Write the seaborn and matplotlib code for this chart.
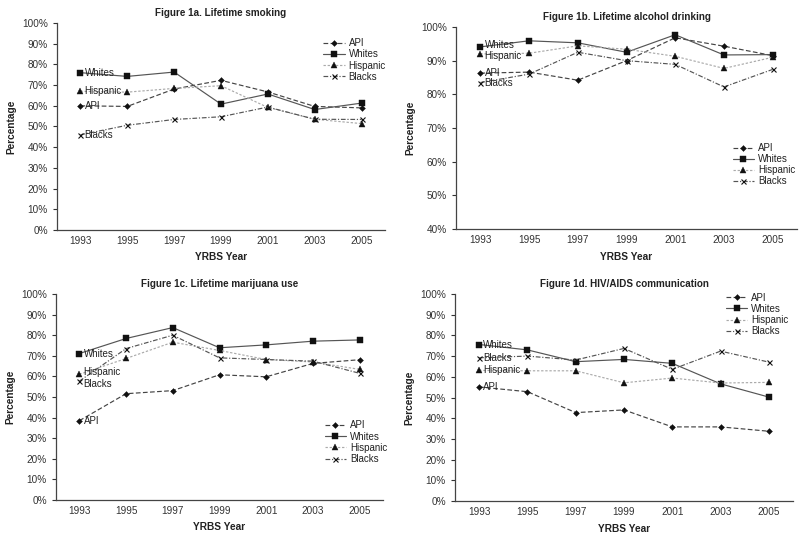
import matplotlib
matplotlib.use("Agg")
import matplotlib.pyplot as plt
import seaborn as sns
import pandas as pd
from matplotlib.ticker import PercentFormatter, MultipleLocator
from matplotlib.lines import Line2D

sns.set_theme(style="white")
plt.rcParams['font.family'] = ['Liberation Sans', 'DejaVu Sans']

years = [1993, 1995, 1997, 1999, 2001, 2003, 2005]
groups = ["API", "Whites", "Hispanic", "Blacks"]

smoke_api = [60.0, 59.7, 68.1, 72.3, 66.7, 59.7, 59.0]
smoke_whites = [76.0, 74.2, 76.3, 60.8, 65.7, 58.2, 61.3]
smoke_hispanic = [67.0, 66.6, 68.4, 69.7, 59.2, 53.5, 51.4]
smoke_blacks = [46.0, 50.6, 53.4, 54.7, 59.4, 53.5, 53.4]

alcohol_api = [86.3, 86.6, 84.2, 90.0, 96.8, 94.3, 91.5]
alcohol_whites = [94.1, 95.9, 95.3, 92.5, 97.7, 91.7, 91.8]
alcohol_hispanic = [92.0, 92.2, 94.4, 93.4, 91.3, 87.7, 91.0]
alcohol_blacks = [83.5, 86.0, 92.5, 90.0, 88.9, 82.2, 87.4]

marijuana_api = [38.5, 51.6, 53.1, 60.8, 59.8, 66.3, 68.1]
marijuana_whites = [71.1, 78.4, 83.7, 73.9, 75.3, 77.1, 77.7]
marijuana_hispanic = [61.0, 68.7, 76.6, 72.6, 68.2, 67.0, 63.4]
marijuana_blacks = [57.7, 73.5, 80.0, 69.0, 68.2, 67.4, 61.5]

hiv_api = [55.1, 52.8, 42.7, 44.0, 35.8, 35.8, 33.7]
hiv_whites = [75.6, 73.0, 67.3, 68.4, 66.5, 56.6, 50.2]
hiv_hispanic = [63.1, 62.9, 62.9, 57.1, 59.4, 57.0, 57.3]
hiv_blacks = [69.2, 70.0, 68.1, 73.7, 63.6, 72.4, 67.1]

titles = ["Figure 1a. Lifetime smoking", "Figure 1b. Lifetime alcohol drinking",
          "Figure 1c. Lifetime marijuana use", "Figure 1d. HIV/AIDS communication"]

panels = [
    [smoke_api, smoke_whites, smoke_hispanic, smoke_blacks],
    [alcohol_api, alcohol_whites, alcohol_hispanic, alcohol_blacks],
    [marijuana_api, marijuana_whites, marijuana_hispanic, marijuana_blacks],
    [hiv_api, hiv_whites, hiv_hispanic, hiv_blacks],
]

styles = {
    "API": dict(color="#444444", ls=(0, (4, 2)), marker="D", ms=3.0, lw=0.85),
    "Whites": dict(color="#555555", ls="-", marker="s", ms=4.0, lw=0.85),
    "Hispanic": dict(color="#aaaaaa", ls=(0, (2, 1.5)), marker="^", ms=3.8, lw=0.85),
    "Blacks": dict(color="#555555", ls=(0, (4, 1.5, 1, 1.5)), marker="x", ms=3.6, lw=0.85),
}

W, H = 800, 538
def rect(l, r, t, b):
    return [l / W, 1 - b / H, (r - l) / W, (b - t) / H]

rects = [rect(57, 385, 23, 230), rect(456, 797, 27, 229),
         rect(56, 383, 294, 500), rect(455, 793, 294, 501)]
ylims = [(0, 100), (40, 100), (0, 100), (0, 100)]
legend_anchor = [(0.80, 0.945), (0.80, 0.445), (0.81, 0.405), (0.79, 1.025)]
label_dy = {
    0: {"API": 0, "Whites": 0, "Hispanic": 0, "Blacks": 0},
    1: {"API": 0, "Whites": 1.5, "Hispanic": -1.5, "Blacks": 0},
    2: {"API": 0, "Whites": 0, "Hispanic": 1.5, "Blacks": -2},
    3: {"API": 0, "Whites": 0, "Hispanic": 0, "Blacks": 0},
}

fig = plt.figure(figsize=(8, 5.38), dpi=100)
tick_color = "#333333"

for i, (series_list, title) in enumerate(zip(panels, titles)):
    ax = fig.add_axes(rects[i])
    for g, vals in zip(groups, series_list):
        st = styles[g]
        df = pd.DataFrame({"Year": years, "Value": vals})
        sns.lineplot(data=df, x="Year", y="Value", ax=ax, color=st["color"],
                     linestyle=st["ls"], linewidth=st["lw"], marker=st["marker"],
                     markersize=st["ms"], markerfacecolor="#111111",
                     markeredgecolor="#111111", markeredgewidth=0.8 if g == "Blacks" else 0.3,
                     legend=False, errorbar=None)
        ax.annotate(g, xy=(years[0], vals[0]), xytext=(3, label_dy[i][g]),
                    textcoords="offset points", va="center", ha="left",
                    fontsize=7, color="#222222")
    ax.set_xlim(1992, 2006)
    ax.set_ylim(*ylims[i])
    ax.set_xticks(years)
    ax.set_xticklabels([str(y) for y in years])
    ax.yaxis.set_major_locator(MultipleLocator(10))
    ax.yaxis.set_major_formatter(PercentFormatter(decimals=0))
    ax.tick_params(axis="both", labelsize=7.2, colors=tick_color, labelcolor=tick_color)
    ax.tick_params(axis="y", length=3, width=0.8, direction="out", left=True)
    ax.tick_params(axis="x", length=0, pad=4)
    for s in ["top", "right"]:
        ax.spines[s].set_visible(False)
    for s in ["left", "bottom"]:
        ax.spines[s].set_color("#444444")
        ax.spines[s].set_linewidth(0.9)
    ax.set_title(title, fontsize=7.1, fontweight="bold", color="#222222", pad=5)
    ax.set_xlabel("YRBS Year", fontsize=7.3, fontweight="bold", color="#222222", labelpad=5)
    ax.set_ylabel("Percentage", fontsize=7.3, fontweight="bold", color="#222222", labelpad=4)
    ax.grid(False)
    handles = [Line2D([], [], color=styles[g]["color"], linestyle=styles[g]["ls"],
                      linewidth=styles[g]["lw"], marker=styles[g]["marker"],
                      markersize=styles[g]["ms"], markerfacecolor="#111111",
                      markeredgecolor="#111111",
                      markeredgewidth=0.8 if g == "Blacks" else 0.3) for g in groups]
    leg = ax.legend(handles, groups, loc="upper left", bbox_to_anchor=legend_anchor[i],
                    frameon=False, fontsize=7, handlelength=2.2, handletextpad=0.4,
                    labelspacing=0.12, borderaxespad=0)
    for t in leg.get_texts():
        t.set_color("#222222")

fig.savefig("out.png", dpi=100)
